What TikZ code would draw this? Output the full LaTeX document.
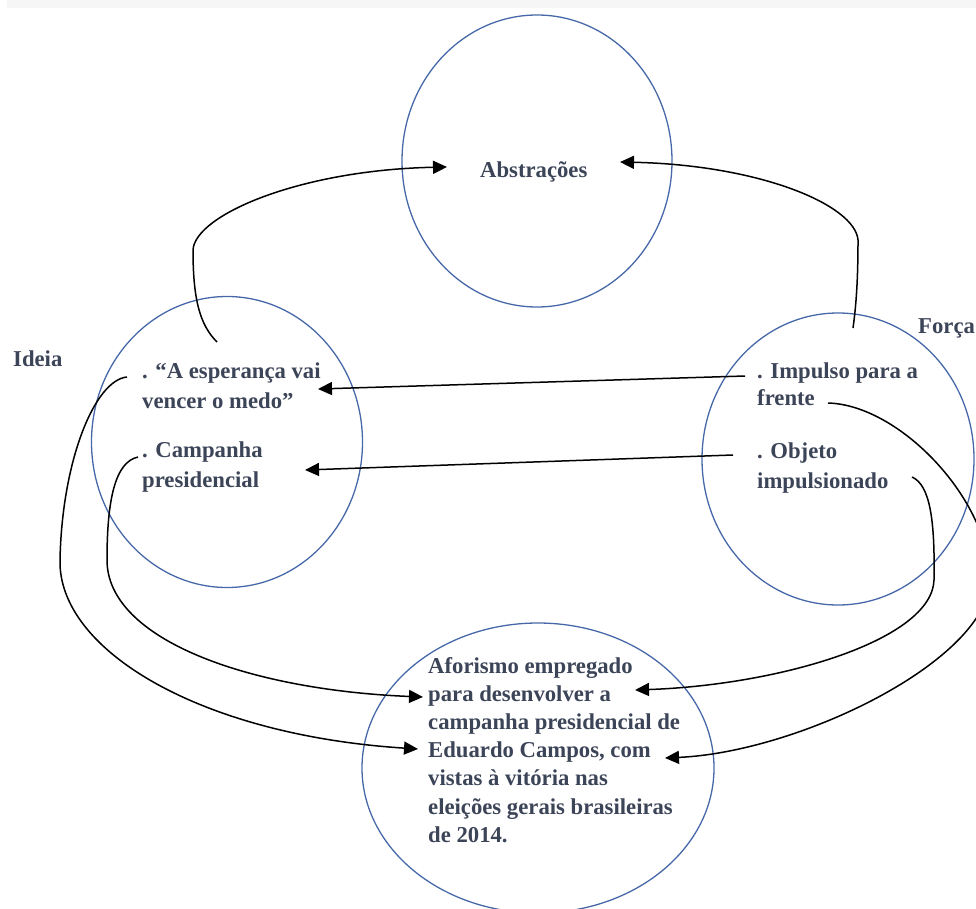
\documentclass[tikz,border=0pt]{standalone}
\usepackage{fontspec}
\setmainfont{Liberation Serif}
\usetikzlibrary{shapes.geometric,arrows.meta}
\definecolor{ink}{RGB}{60,68,88}
\definecolor{ring}{RGB}{70,104,168}
\definecolor{band}{RGB}{246,246,246}
\begin{document}
\begin{tikzpicture}[x=1pt,y=-1pt,
  bubble/.style={draw=ring,line width=1.3pt,ellipse,inner sep=0pt},
  txt/.style={anchor=base west,inner sep=0pt,text=ink,font=\fontsize{22.7}{28}\selectfont\bfseries},
  link/.style={draw=black,line width=1.5pt,-{Triangle[length=14pt,width=13pt]}}]
\useasboundingbox (0,0) rectangle (976,909);
\fill[band] (7,0) rectangle (976,8);

% the four concept bubbles
\node[bubble,minimum width=270pt,minimum height=292pt] (abs)   at (537,161) {};
\node[bubble,minimum width=271pt,minimum height=291pt] (ideia) at (227,442) {};
\node[bubble,minimum width=272pt,minimum height=292pt] (forca) at (838,459) {};
\node[bubble,minimum width=352pt,minimum height=290pt] (afor)  at (538,768) {};

% labels
\node[txt] (tabs) at (480,178) {Abstrações};
\node[txt] (tideia) at (13,366) {Ideia};
\node[txt] (tforca) at (918,333) {Força};

\node[txt] (esp1) at (142,378) {. “A esperança vai};
\node[txt] (esp2) at (142,408) {vencer o medo”};
\node[txt] (camp1) at (142,457) {. Campanha};
\node[txt] (camp2) at (142,487) {presidencial};

\node[txt] (imp1) at (757,378) {. Impulso para a};
\node[txt] (imp2) at (757,405) {frente};
\node[txt] (obj1) at (757,458) {. Objeto};
\node[txt] (obj2) at (757,488) {impulsionado};

\node[txt] (af1) at (428,673.0) {Aforismo empregado};
\node[txt] (af2) at (428,701.2) {para desenvolver a};
\node[txt] (af3) at (428,729.4) {campanha presidencial de};
\node[txt] (af4) at (428,757.6) {Eduardo Campos, com};
\node[txt] (af5) at (428,785.8) {vistas à vitória nas};
\node[txt] (af6) at (428,814.0) {eleições gerais brasileiras};
\node[txt] (af7) at (428,842.2) {de 2014.};

% connector end points
\coordinate (ideiaTop) at (217,342);
\coordinate (absIn)    at (447,167);
\coordinate (forcaTop) at (853,328);
\coordinate (absOut)   at (620,162);
\coordinate (impL)     at (745,376);
\coordinate (espR)     at (318,389);
\coordinate (objL)     at (733,455);
\coordinate (campR)    at (305,470);
\coordinate (espL)     at (127,377);
\coordinate (campL)    at (138,457);
\coordinate (aforL1)   at (423,697);
\coordinate (aforL2)   at (418,749);
\coordinate (objR)     at (912,477);
\coordinate (impR)     at (828,403);
\coordinate (aforR1)   at (635,690);
\coordinate (aforR2)   at (665,758);

% connectors
\draw[link] (ideiaTop) .. controls (200,325) and (193,300) .. (193,250)
            .. controls (195,215) and (300,170) .. (absIn);
\draw[link] (forcaTop) .. controls (857,300) and (858,270) .. (858,240)
            .. controls (855,205) and (760,165) .. (absOut);
\draw[link] (impL) -- (espR);
\draw[link] (objL) -- (campR);
\draw[link] (espL) .. controls (95,380) and (62,460) .. (60,560)
            .. controls (58,650) and (200,735) .. (aforL2);
\draw[link] (campL) .. controls (115,462) and (107,500) .. (107,560)
            .. controls (107,640) and (250,690) .. (aforL1);
\draw[link] (objR) .. controls (930,485) and (935,520) .. (934,580)
            .. controls (932,640) and (780,685) .. (aforR1);
\draw[link] (impR) .. controls (900,405) and (990,500) .. (990,580)
            .. controls (988,660) and (800,752) .. (aforR2);
\end{tikzpicture}
\end{document}
